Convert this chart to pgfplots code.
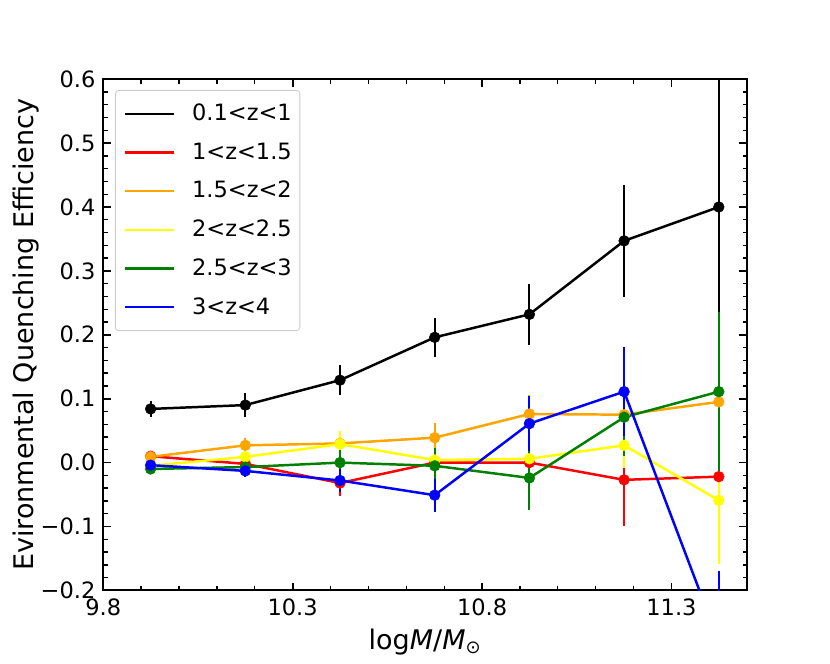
\documentclass[border=0pt]{standalone}
\usepackage{fontspec}
\setmainfont{DejaVu Sans}
\usepackage{pgfplots}
\usepackage{pgfplotstable}
\pgfplotsset{compat=1.18}
\definecolor{mred}{HTML}{FF0000}
\definecolor{morange}{HTML}{FFA500}
\definecolor{myellow}{HTML}{FFFF00}
\definecolor{mgreen}{HTML}{008000}
\definecolor{mblue}{HTML}{0000FF}

\pgfplotstableread{
x y e
9.925 0.084 0.013
10.175 0.090 0.019
10.425 0.129 0.023
10.675 0.196 0.030
10.925 0.232 0.048
11.175 0.347 0.088
11.425 0.400 0.210
}\blackdata
\pgfplotstableread{
x y e
9.925 0.010 0.008
10.175 -0.002 0.010
10.425 -0.032 0.020
10.675 0.000 0.015
10.925 0.000 0.020
11.175 -0.027 0.073
11.425 -0.022 0.030
}\reddata
\pgfplotstableread{
x y e
9.925 0.009 0.006
10.175 0.027 0.011
10.425 0.030 0.015
10.675 0.039 0.023
10.925 0.076 0.030
11.175 0.075 0.040
11.425 0.095 0.100
}\orangedata
\pgfplotstableread{
x y e
9.925 -0.005 0.005
10.175 0.009 0.010
10.425 0.029 0.020
10.675 0.004 0.015
10.925 0.006 0.020
11.175 0.027 0.035
11.425 -0.059 0.100
}\yellowdata
\pgfplotstableread{
x y e
9.925 -0.010 0.005
10.175 -0.007 0.010
10.425 0.000 0.020
10.675 -0.005 0.028
10.925 -0.024 0.050
11.175 0.071 0.060
11.425 0.111 0.124
}\greendata
\pgfplotstableread{
x y e
9.925 -0.004 0.005
10.175 -0.013 0.010
10.425 -0.028 0.018
10.675 -0.051 0.026
10.925 0.061 0.043
11.175 0.111 0.070
11.425 -0.280 0.110
}\bluedata

\pgfplotsset{
  ser/.style={color=#1, line width=1.1pt, mark=*, mark size=2.4pt,
    mark options={solid, fill=#1, draw=#1, line width=0.2pt},
    error bars/.cd, y dir=both, y explicit, error mark=none,
    error bar style={line width=0.9pt, color=#1}},
}

\begin{document}
\begin{tikzpicture}
\useasboundingbox (-45.9pt,-32.7pt) rectangle (323.0pt,262.4pt);
\begin{axis}[
  at={(0,0)}, anchor=south west,
  scale only axis, width=286.2pt, height=227.2pt,
  xmin=9.8, xmax=11.5, ymin=-0.2, ymax=0.6,
  xtick={9.8,10.3,10.8,11.3},
  xticklabels={9.8,10.3,10.8,11.3},
  ytick={-0.2,-0.1,0,0.1,0.2,0.3,0.4,0.5,0.6},
  yticklabels={−0.2,−0.1,0.0,0.1,0.2,0.3,0.4,0.5,0.6},
  minor x tick num=4, minor y tick num=4,
  tick align=inside,
  major tick length=3.5pt, minor tick length=2pt,
  major tick style={line width=0.8pt, black},
  minor tick style={line width=0.6pt, black},
  axis line style={line width=0.8pt},
  ticklabel style={font=\fontsize{10}{12}\selectfont},
  label style={font=\fontsize{12}{14}\selectfont},
  xlabel={log\textit{M}/\textit{M}\textsubscript{⊙}},
  ylabel={Evironmental Quenching Efficiency},
  ylabel style={xshift=0pt, yshift=-6pt},
  xlabel style={yshift=1pt},
  legend cell align=left,
  legend image code/.code={\draw[#1, line width=1.1pt] (0pt,0pt) -- (21.8pt,0pt);},
  legend style={at={(0,1)}, anchor=north west, xshift=5.2pt, yshift=-4.76pt,
    draw=black!20, rounded corners=1.5pt, fill=white,
    font=\fontsize{10}{12}\selectfont,
    inner xsep=3.6pt, inner ysep=5.4pt, row sep=7.2pt,
    nodes={inner sep=0pt, text height=8pt, text depth=2pt},
    /tikz/every odd column/.append style={column sep=7.6pt}},
]
\addplot[ser=black] table[x=x, y=y, y error=e] {\blackdata};
\addlegendentry{0.1<z<1}
\addplot[ser=mred] table[x=x, y=y, y error=e] {\reddata};
\addlegendentry{1<z<1.5}
\addplot[ser=morange] table[x=x, y=y, y error=e] {\orangedata};
\addlegendentry{1.5<z<2}
\addplot[ser=myellow] table[x=x, y=y, y error=e] {\yellowdata};
\addlegendentry{2<z<2.5}
\addplot[ser=mgreen] table[x=x, y=y, y error=e] {\greendata};
\addlegendentry{2.5<z<3}
\addplot[ser=mblue] table[x=x, y=y, y error=e] {\bluedata};
\addlegendentry{3<z<4}
\end{axis}
\end{tikzpicture}
\end{document}
